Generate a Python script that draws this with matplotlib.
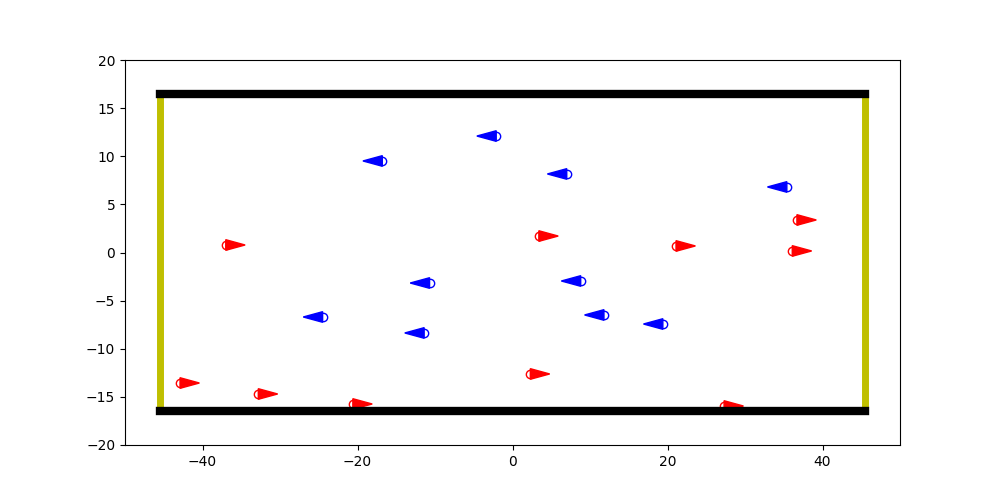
import matplotlib
matplotlib.use("Agg")
import matplotlib.pyplot as plt

# walls of the box
x_wall = 45.5
y_wall = 16.5

# red particles (moving right)
red_x = [-37.0, -42.9, -32.8, -20.6, 3.4, 2.3, 21.1, 27.3, 36.7, 36.1]
red_y = [0.78, -13.56, -14.7, -15.74, 1.71, -12.62, 0.68, -15.95, 3.38, 0.16]

# blue particles (moving left)
blue_x = [-2.1, -16.8, 7.0, 35.4, -10.7, 8.8, -24.5, -11.4, 11.8, 19.4]
blue_y = [12.1, 9.51, 8.16, 6.81, -3.17, -2.96, -6.7, -8.36, -6.49, -7.43]

arrow_len = 2.5
head_w = 1.1

fig, ax = plt.subplots(figsize=(10, 5), dpi=100)

ax.plot(red_x, red_y, 'o', mfc='none', color='r')
for x, y in zip(red_x, red_y):
    ax.arrow(x, y, arrow_len, 0, head_width=head_w, head_length=arrow_len,
             length_includes_head=True, width=0.0, color='r')

ax.plot(blue_x, blue_y, 'o', mfc='none', color='b')
for x, y in zip(blue_x, blue_y):
    ax.arrow(x, y, -arrow_len, 0, head_width=head_w, head_length=arrow_len,
             length_includes_head=True, width=0.0, color='b')

# side walls then top/bottom
ax.plot([-x_wall, -x_wall], [-y_wall, y_wall], color='y', linewidth=5)
ax.plot([x_wall, x_wall], [-y_wall, y_wall], color='y', linewidth=5)
ax.plot([-x_wall, x_wall], [y_wall, y_wall], color='k', linewidth=6)
ax.plot([-x_wall, x_wall], [-y_wall, -y_wall], color='k', linewidth=6)

ax.set_xlim(-50, 50)
ax.set_ylim(-20, 20)

plt.savefig("out.png")
